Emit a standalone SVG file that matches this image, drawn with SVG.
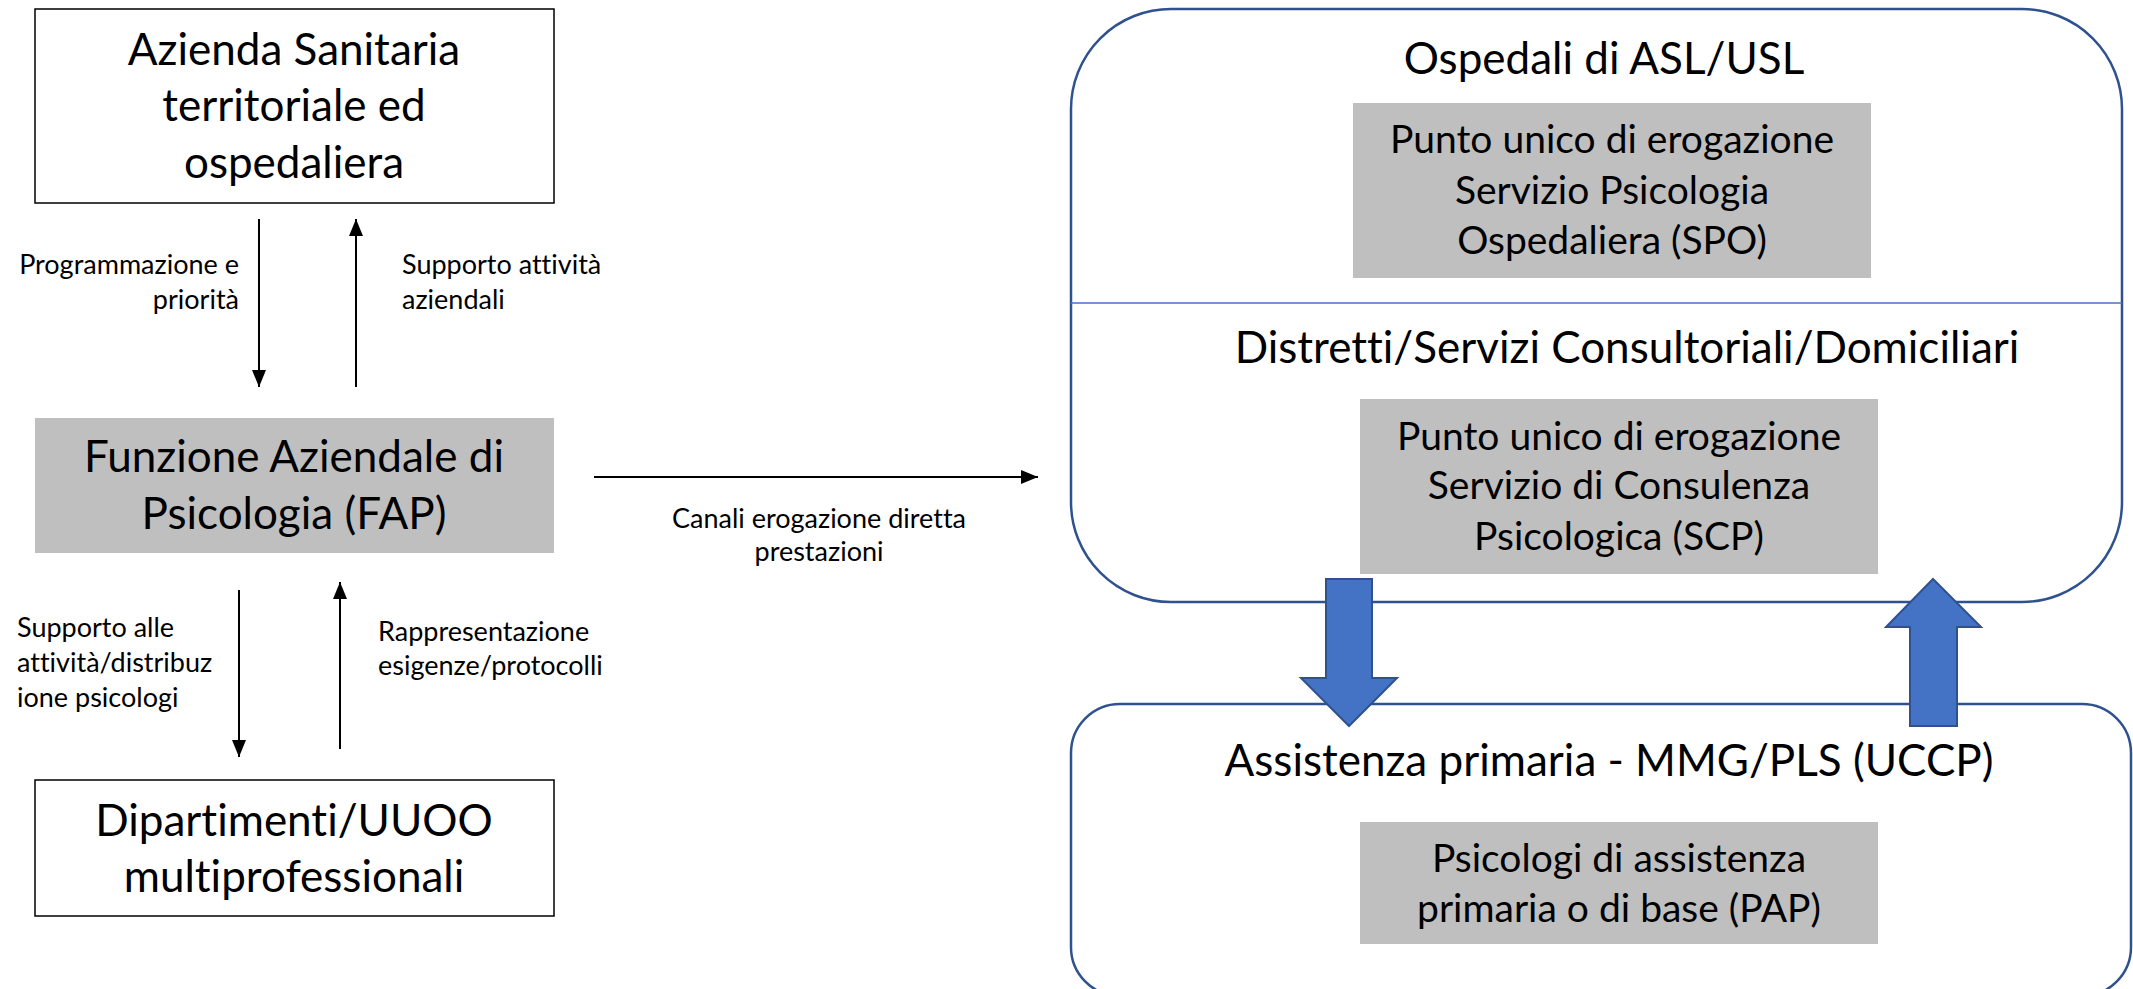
<svg xmlns="http://www.w3.org/2000/svg" width="2133" height="989" viewBox="0 0 2133 989">
  <style>
    text { font-family: Lato, "Liberation Sans", sans-serif; fill: #000; font-variant-ligatures: none; font-feature-settings: "liga" 0, "clig" 0, "dlig" 0; }
    .big { font-size: 44px; text-anchor: middle; }
    .mid { font-size: 39px; text-anchor: middle; }
    .small { font-size: 27px; }
    .box { fill: #fff; stroke: #000; stroke-width: 1.5; }
    .grey { fill: #bfbfbf; stroke: none; }
    .panel { fill: #fff; stroke: #2f528f; stroke-width: 2.5; }
    .conn { stroke: #000; stroke-width: 2; fill: none; marker-end: url(#head); }
    .fat { fill: #4472c4; stroke: #2f528f; stroke-width: 2; }
  </style>
  <defs>
    <marker id="head" markerUnits="userSpaceOnUse" markerWidth="17" markerHeight="14" refX="17" refY="7" orient="auto">
      <path d="M0,0 L17,7 L0,14 z" fill="#000"/>
    </marker>
  </defs>

  <rect width="2133" height="989" fill="#fff"/>

  <!-- left column -->
  <g id="azienda">
    <rect class="box" x="35" y="9" width="519" height="194"/>
    <text class="big" x="294" y="65">Azienda Sanitaria</text>
    <text class="big" x="294" y="121">territoriale ed</text>
    <text class="big" x="294" y="178">ospedaliera</text>
  </g>

  <g id="fap">
    <rect class="grey" x="35" y="418" width="519" height="135"/>
    <text class="big" x="294" y="472">Funzione Aziendale di</text>
    <text class="big" x="294" y="529">Psicologia (FAP)</text>
  </g>

  <g id="dipartimenti">
    <rect class="box" x="35" y="780" width="519" height="136"/>
    <text class="big" x="294" y="836">Dipartimenti/UUOO</text>
    <text class="big" x="294" y="892">multiprofessionali</text>
  </g>

  <!-- right column: hospital and district panel -->
  <g id="ospedali">
    <rect class="panel" x="1071" y="9" width="1051" height="593" rx="100" ry="100"/>
    <line x1="1071" y1="303" x2="2122" y2="303" stroke="#4472c4" stroke-width="1.5"/>
    <text class="big" x="1604" y="74">Ospedali di ASL/USL</text>
  </g>

  <g id="spo">
    <rect class="grey" x="1353" y="103" width="518" height="175"/>
    <text class="mid" x="1612" y="153">Punto unico di erogazione</text>
    <text class="mid" x="1612" y="204">Servizio Psicologia</text>
    <text class="mid" x="1612" y="254">Ospedaliera (SPO)</text>
  </g>

  <g id="distretti">
    <text class="big" x="1627" y="363">Distretti/Servizi Consultoriali/Domiciliari</text>
  </g>

  <g id="scp">
    <rect class="grey" x="1360" y="399" width="518" height="175"/>
    <text class="mid" x="1619" y="450">Punto unico di erogazione</text>
    <text class="mid" x="1619" y="499">Servizio di Consulenza</text>
    <text class="mid" x="1619" y="550">Psicologica (SCP)</text>
  </g>

  <!-- primary care panel -->
  <g id="assistenza">
    <rect class="panel" x="1071" y="704" width="1060" height="292" rx="49" ry="49"/>
    <text class="big" x="1609" y="776">Assistenza primaria - MMG/PLS (UCCP)</text>
  </g>

  <g id="pap">
    <rect class="grey" x="1360" y="822" width="518" height="122"/>
    <text class="mid" x="1619" y="872">Psicologi di assistenza</text>
    <text class="mid" x="1619" y="922">primaria o di base (PAP)</text>
  </g>

  <!-- connectors -->
  <g id="connectors">
    <line class="conn" x1="259" y1="219" x2="259" y2="387"/>
    <line class="conn" x1="356" y1="387" x2="356" y2="219"/>
    <line class="conn" x1="239" y1="590" x2="239" y2="757"/>
    <line class="conn" x1="340" y1="749" x2="340" y2="582"/>
    <line class="conn" x1="594" y1="477" x2="1038" y2="477"/>

    <path class="fat" d="M1326,579 L1372,579 L1372,678 L1397,678 L1349,726 L1301,678 L1326,678 Z"/>
    <path class="fat" d="M1933,579 L1981,627 L1957,627 L1957,726 L1910,726 L1910,627 L1886,627 Z"/>

    <text class="small" x="239" y="274" text-anchor="end">Programmazione e</text>
    <text class="small" x="239" y="309" text-anchor="end">priorità</text>
    <text class="small" x="402" y="274">Supporto attività</text>
    <text class="small" x="402" y="309">aziendali</text>

    <text class="small" x="17" y="637">Supporto alle</text>
    <text class="small" x="17" y="672">attività/distribuz</text>
    <text class="small" x="17" y="707">ione psicologi</text>
    <text class="small" x="378" y="641">Rappresentazione</text>
    <text class="small" x="378" y="675">esigenze/protocolli</text>

    <text class="small" x="819" y="528" text-anchor="middle">Canali erogazione diretta</text>
    <text class="small" x="819" y="561" text-anchor="middle">prestazioni</text>
  </g>
</svg>
